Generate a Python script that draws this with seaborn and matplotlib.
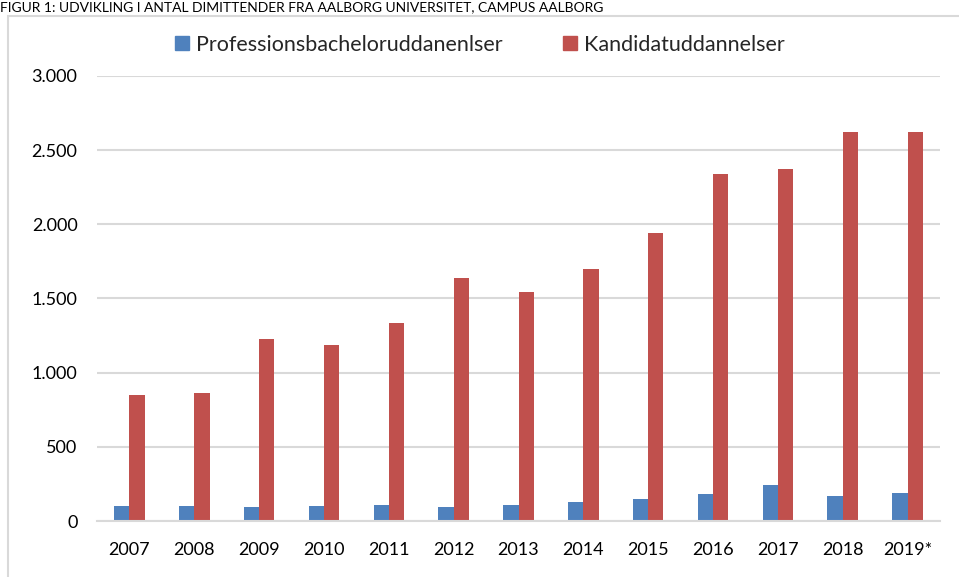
import pandas as pd
import numpy as np
import matplotlib.pyplot as plt
import seaborn as sns
from matplotlib.ticker import FuncFormatter, MultipleLocator
from matplotlib.patches import Rectangle

years = ['2007', '2008', '2009', '2010', '2011', '2012', '2013',
         '2014', '2015', '2016', '2017', '2018', '2019*']
prof_bachelor = [100, 102, 94, 102, 110, 92, 105, 125, 148, 185, 245, 170, 192]
kandidat = [848, 860, 1225, 1185, 1338, 1638, 1542, 1698, 1942, 2340, 2372, 2625, 2623]
series_names = ['Professionsbacheloruddanenlser', 'Kandidatuddannelser']
colors = ['#4f81bd', '#c0504d']
title = 'FIGUR 1: UDVIKLING I ANTAL DIMITTENDER FRA AALBORG UNIVERSITET, CAMPUS AALBORG'


def main():
    df = pd.DataFrame({
        'year': years * 2,
        'value': prof_bachelor + kandidat,
        'serie': [series_names[0]] * len(years) + [series_names[1]] * len(years),
    })

    sns.set_style('white')
    plt.rcParams['font.family'] = ['Lato', 'DejaVu Sans']

    fig = plt.figure(figsize=(9.59, 5.77), dpi=100)
    ax = fig.add_axes([97 / 959, 1 - 521 / 577, 843 / 959, 445 / 577 + 0.0001])

    sns.barplot(data=df, x='year', y='value', hue='serie', palette=colors,
                width=0.47, ax=ax, saturation=1, edgecolor='none', legend=False)

    ax.set_ylim(0, 3000)
    ax.set_xlim(-0.5, len(years) - 0.5)
    ax.yaxis.set_major_locator(MultipleLocator(500))
    ax.yaxis.set_major_formatter(FuncFormatter(lambda v, p: f'{int(v):,}'.replace(',', '.')))
    ax.grid(axis='y', color='#d9d9d9', linewidth=1.5)
    ax.set_axisbelow(True)
    for s in ['top', 'right', 'left']:
        ax.spines[s].set_visible(False)
    ax.spines['bottom'].set_color('#d9d9d9')
    ax.spines['bottom'].set_linewidth(1.5)
    ax.tick_params(axis='both', length=0, labelsize=13, colors='#000000')
    ax.tick_params(axis='y', pad=14)
    ax.tick_params(axis='x', pad=15)
    ax.set_xlabel('')
    ax.set_ylabel('')

    # legend
    handles = [plt.Line2D([], [], marker='s', linestyle='none', markersize=10,
                          color=c) for c in colors]
    fig.legend(handles, series_names, loc='center', bbox_to_anchor=(0.5, 1 - 45 / 577),
               ncol=2, frameon=False, fontsize=15.5, handlelength=0.7,
               handletextpad=0.3, columnspacing=2.8)

    # chart frame
    fig.patches.append(Rectangle((8 / 959, -0.1), 1.2, (1 - 16 / 577) + 0.1,
                                 transform=fig.transFigure, fill=False,
                                 edgecolor='#d9d9d9', linewidth=1.5))

    # title above the frame
    fig.text(0.0, 1 - 1 / 577, title, fontsize=10, ha='left', va='top',
             color='#000000')

    fig.savefig('out.png', dpi=100)
    plt.close(fig)


if __name__ == '__main__':
    main()
